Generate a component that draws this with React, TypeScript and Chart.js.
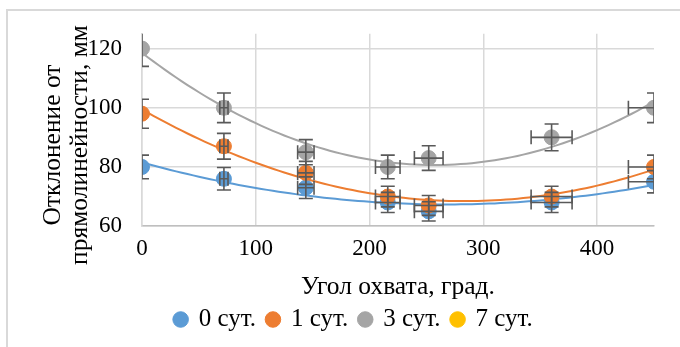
import React, { useEffect, useRef } from "react";
import { Chart, registerables } from "chart.js";

Chart.register(...registerables);

const ANGLES = [0, 72, 144, 216, 252, 360, 450];
const DAY0 = [80, 76, 73, 68, 65, 68, 75];
const DAY1 = [98, 87, 78, 70, 67, 70, 80];
const DAY3 = [120, 100, 85, 80, 83, 90, 100];
const DAY7: number[] = [];
const SERIES_NAMES = ["0 сут.", "1 сут.", "3 сут.", "7 сут."];
const COLORS = ["#5B9BD5", "#ED7D31", "#A5A5A5", "#FFC000"];
const ERR_PCT = 0.05;
const X_TITLE = "Угол охвата, град.";
const Y_TITLE = ["Отклонение от", "прямолинейности, мм"];

const FONT_FAMILY = "Liberation Serif";
const TICK_SIZE = 23;
const TITLE_SIZE = 25.5;
const LEGEND_SIZE = 25;

function quadFit(xs: number[], ys: number[]) {
  let s0 = 0, s1 = 0, s2 = 0, s3 = 0, s4 = 0, t0 = 0, t1 = 0, t2 = 0;
  xs.forEach((x, i) => {
    const y = ys[i];
    s0 += 1; s1 += x; s2 += x * x; s3 += x * x * x; s4 += x * x * x * x;
    t0 += y; t1 += x * y; t2 += x * x * y;
  });
  const m = [
    [s0, s1, s2, t0],
    [s1, s2, s3, t1],
    [s2, s3, s4, t2],
  ];
  for (let c = 0; c < 3; c++) {
    for (let r = c + 1; r < 3; r++) {
      const f = m[r][c] / m[c][c];
      for (let k = c; k < 4; k++) m[r][k] -= f * m[c][k];
    }
  }
  const coef = [0, 0, 0];
  for (let r = 2; r >= 0; r--) {
    let s = m[r][3];
    for (let k = r + 1; k < 3; k++) s -= m[r][k] * coef[k];
    coef[r] = s / m[r][r];
  }
  return (x: number) => coef[0] + coef[1] * x + coef[2] * x * x;
}

function trendPoints(ys: number[]) {
  const f = quadFit(ANGLES, ys);
  const xMin = ANGLES[0];
  const xMax = ANGLES[ANGLES.length - 1];
  const pts: { x: number; y: number }[] = [];
  const n = 90;
  for (let i = 0; i <= n; i++) {
    const x = xMin + ((xMax - xMin) * i) / n;
    pts.push({ x, y: f(x) });
  }
  return pts;
}

const errorBarPlugin = {
  id: "errorBars",
  afterDatasetsDraw(chart: any) {
    const { ctx, chartArea } = chart;
    const xs = chart.scales.x;
    const ys = chart.scales.y;
    ctx.save();
    ctx.beginPath();
    ctx.rect(chartArea.left, chartArea.top, chartArea.right - chartArea.left, chartArea.bottom - chartArea.top);
    ctx.clip();
    ctx.strokeStyle = "#595959";
    ctx.lineWidth = 1.6;
    const cap = 7;
    chart.data.datasets.forEach((ds: any, di: number) => {
      if (!ds.errorBars || !chart.isDatasetVisible(di)) return;
      ds.data.forEach((p: any) => {
        const cx = xs.getPixelForValue(p.x);
        const cy = ys.getPixelForValue(p.y);
        const dx = p.x * ERR_PCT;
        const dy = p.y * ERR_PCT;
        const y1 = ys.getPixelForValue(p.y + dy);
        const y2 = ys.getPixelForValue(p.y - dy);
        ctx.beginPath();
        ctx.moveTo(cx, y1); ctx.lineTo(cx, y2);
        ctx.moveTo(cx - cap, y1); ctx.lineTo(cx + cap, y1);
        ctx.moveTo(cx - cap, y2); ctx.lineTo(cx + cap, y2);
        ctx.stroke();
        if (dx > 0) {
          const x1 = xs.getPixelForValue(p.x - dx);
          const x2 = xs.getPixelForValue(p.x + dx);
          ctx.beginPath();
          ctx.moveTo(x1, cy); ctx.lineTo(x2, cy);
          ctx.moveTo(x1, cy - cap); ctx.lineTo(x1, cy + cap);
          ctx.moveTo(x2, cy - cap); ctx.lineTo(x2, cy + cap);
          ctx.stroke();
        }
      });
    });
    ctx.restore();
  },
};

// Y-axis title (two lines, rotated), placed like the original
const yTitlePlugin = {
  id: "yTitle",
  afterDraw(chart: any) {
    const { ctx } = chart;
    const centersX = [53, 80];
    const centerY = 145;
    ctx.save();
    ctx.fillStyle = "#000";
    ctx.font = `${TITLE_SIZE}px "${FONT_FAMILY}"`;
    ctx.textAlign = "center";
    ctx.textBaseline = "middle";
    Y_TITLE.forEach((line, i) => {
      ctx.save();
      ctx.translate(centersX[i], centerY);
      ctx.rotate(-Math.PI / 2);
      ctx.fillText(line, 0, 0);
      ctx.restore();
    });
    ctx.restore();
  },
};

export default function App() {
  const ref = useRef<HTMLCanvasElement | null>(null);
  useEffect(() => {
    if (!ref.current) return;
    Chart.defaults.font.family = FONT_FAMILY;
    Chart.defaults.color = "#000";
    const seriesValues = [DAY0, DAY1, DAY3, DAY7];
    const pointSets: any[] = seriesValues.map((vals, i) => ({
      type: "scatter",
      label: SERIES_NAMES[i],
      data: vals.map((v, j) => ({ x: ANGLES[j], y: v })),
      backgroundColor: COLORS[i],
      borderColor: COLORS[i],
      pointRadius: 7.5,
      pointBorderWidth: 1,
      pointHoverRadius: 7.5,
      showLine: false,
      errorBars: true,
      order: 4 - i,
    }));
    const trendSets: any[] = seriesValues
      .map((vals, i) => ({ vals, i }))
      .filter((s) => s.vals.length > 2)
      .map(({ vals, i }) => ({
        type: "line",
        label: "trend" + i,
        isTrend: true,
        data: trendPoints(vals),
        borderColor: COLORS[i],
        backgroundColor: COLORS[i],
        borderWidth: 2,
        pointRadius: 0,
        pointHoverRadius: 0,
        tension: 0,
        fill: false,
        order: 10,
      }));
    const chart = new Chart(ref.current, {
      type: "scatter",
      data: { datasets: [...pointSets, ...trendSets] },
      plugins: [errorBarPlugin, yTitlePlugin],
      options: {
        animation: false,
        responsive: false,
        layout: { padding: { left: 54, right: 26, top: 25, bottom: 5 } },
        plugins: {
          tooltip: { enabled: false },
          legend: {
            position: "bottom",
            labels: {
              usePointStyle: true,
              pointStyle: "circle",
              boxWidth: 11,
              boxHeight: 11,
              padding: 11.5,
              color: "#000",
              font: { family: FONT_FAMILY, size: LEGEND_SIZE, lineHeight: 1.1 },
              filter: (item: any, data: any) => !data.datasets[item.datasetIndex].isTrend,
              sort: (a: any, b: any) => a.datasetIndex - b.datasetIndex,
            },
          },
        },
        scales: {
          x: {
            type: "linear",
            min: 0,
            max: 450,
            ticks: { stepSize: 100, includeBounds: false, color: "#000", font: { family: FONT_FAMILY, size: TICK_SIZE, lineHeight: 1.1 }, padding: 10 },
            grid: { color: "#d9d9d9", lineWidth: 1.5, drawTicks: false },
            border: { color: "#bfbfbf", width: 1.5 },
            title: { display: true, text: X_TITLE, color: "#000", font: { family: FONT_FAMILY, size: TITLE_SIZE, lineHeight: 1.1 }, padding: { top: 2, bottom: -6 } },
          },
          y: {
            type: "linear",
            min: 60,
            max: 125,
            afterFit: (axis: any) => {
              axis.width = 88;
            },
            ticks: { stepSize: 20, includeBounds: false, color: "#000", font: { family: FONT_FAMILY, size: TICK_SIZE }, padding: 20 },
            grid: { color: "#d9d9d9", lineWidth: 1.5, drawTicks: false },
            border: { color: "#d9d9d9", width: 1.5 },
            title: { display: false },
          },
        },
      } as any,
    } as any);
    return () => chart.destroy();
  }, []);
  return (
    <div style={{ position: "fixed", left: 0, top: 0, width: 680, height: 347, overflow: "hidden", background: "#fff" }}>
      <div
        style={{
          position: "absolute",
          left: 6,
          top: 9,
          width: 800,
          height: 500,
          border: "2px solid #d9d9d9",
          boxSizing: "border-box",
        }}
      />
      <canvas ref={ref} width={680} height={347} style={{ position: "absolute", left: 0, top: 0 }} />
    </div>
  );
}
